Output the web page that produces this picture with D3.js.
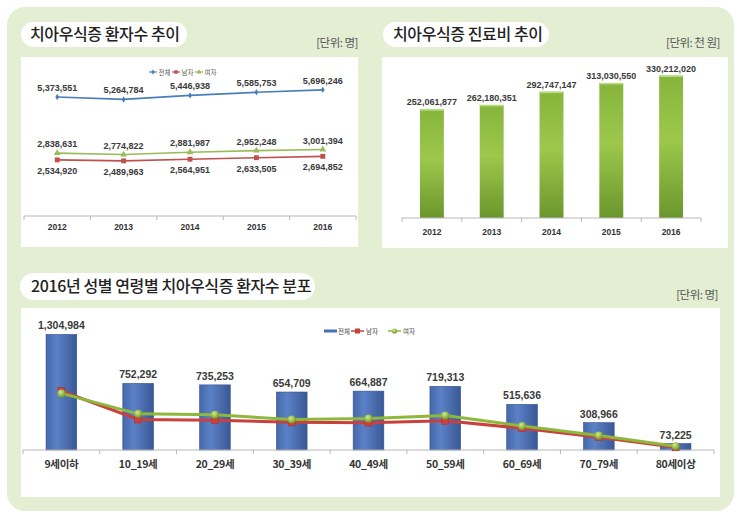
<!DOCTYPE html>
<html><head><meta charset="utf-8">
<script src="https://cdn.jsdelivr.net/npm/d3@7/dist/d3.min.js"></script>
<style>
html,body{margin:0;padding:0;background:#fff;}
svg{display:block;}
text{font-family:"Liberation Sans","Noto Sans CJK KR",sans-serif;}
.kr{font-family:"Noto Sans CJK KR","Noto Sans",sans-serif;}
</style></head>
<body>
<svg id="c" width="743" height="521"></svg>
<script>
// ---------- DATA ----------
const years = ["2012","2013","2014","2015","2016"];
const patientsTotal = [5373551, 5264784, 5446938, 5585753, 5696246];
const patientsMale = [2534920, 2489963, 2564951, 2633505, 2694852];
const patientsFemale = [2838631, 2774822, 2881987, 2952248, 3001394];
const costs = [252061877, 262180351, 292747147, 313030550, 330212020];
const ageGroups = ["9세이하","10_19세","20_29세","30_39세","40_49세","50_59세","60_69세","70_79세","80세이상"];
const ageTotal = [1304984, 752292, 735253, 654709, 664887, 719313, 515636, 308966, 73225];
const ageMale = [666000, 344000, 337000, 312000, 309000, 329000, 245000, 145000, 30000];
const ageFemale = [639000, 408000, 398000, 343000, 356000, 390000, 271000, 164000, 43000];
const seriesNames = ["전체","남자","여자"];

const fmt = d3.format(",");
const svg = d3.select("#c");
const defs = svg.append("defs");

// gradients
const gG = defs.append("linearGradient").attr("id","gbar").attr("x1",0).attr("y1",0).attr("x2",0).attr("y2",1);
[[0,"#86b43c"],[0.45,"#9dc84c"],[1,"#6b962c"]].forEach(s=>gG.append("stop").attr("offset",s[0]).attr("stop-color",s[1]));
const gB = defs.append("linearGradient").attr("id","bbar").attr("x1",0).attr("y1",0).attr("x2",1).attr("y2",0);
[[0,"#4668aa"],[0.35,"#5b81c6"],[1,"#3a5896"]].forEach(s=>gB.append("stop").attr("offset",s[0]).attr("stop-color",s[1]));
const gC = defs.append("radialGradient").attr("id","gdot").attr("cx","40%").attr("cy","35%").attr("r","65%");
[[0,"#d2ec8c"],[1,"#6f9a24"]].forEach(s=>gC.append("stop").attr("offset",s[0]).attr("stop-color",s[1]));

// background
svg.append("rect").attr("x",7).attr("y",7).attr("width",727).attr("height",504).attr("rx",18).attr("fill","#e4eed2");

function panelTitle(x,y,w,h,txt,tx){
  svg.append("rect").attr("x",x).attr("y",y).attr("width",w).attr("height",h).attr("rx",h/2).attr("fill","#fff");
  svg.append("text").attr("class","kr").attr("x",tx).attr("y",y+h/2+5.5).attr("font-size",16).attr("font-weight",500)
    .attr("letter-spacing",-0.4).attr("fill","#222").text(txt);
}
function unit(x,y,txt){
  svg.append("text").attr("class","kr").attr("x",x).attr("y",y).attr("text-anchor","end").attr("font-size",11.5)
    .attr("letter-spacing",-0.5).attr("fill","#555").text(txt);
}
function drawAxis(g, x, y0, fs, pad){
  const ax = g.append("g").attr("transform",`translate(0,${y0})`)
    .call(d3.axisBottom(x).tickSize(0).tickPadding(pad));
  ax.select(".domain").remove();
  ax.selectAll("text").attr("font-size",fs).attr("font-weight","bold").attr("fill","#333");
  const r = x.range();
  g.append("line").attr("x1",r[0]).attr("x2",r[1]).attr("y1",y0).attr("y2",y0).attr("stroke","#b8b8b8").attr("stroke-width",1);
  const bounds = x.domain().map(d=>x(d)).concat([r[1]]);
  g.selectAll(null).data(bounds).enter().append("line")
    .attr("x1",d=>d).attr("x2",d=>d).attr("y1",y0).attr("y2",y0+4).attr("stroke","#b8b8b8");
}

// ---------- PANEL 1 ----------
panelTitle(21,22,166,25,"치아우식증 환자수 추이",30);
unit(358,47,"[단위: 명]");
svg.append("rect").attr("x",21).attr("y",57).attr("width",337).attr("height",190).attr("fill","#fff");
{
  const g = svg.append("g");
  const x = d3.scaleBand().domain(years).range([24,356]).padding(0);
  const cx = d => x(d)+x.bandwidth()/2;
  const y = d3.scaleLinear().domain([0,7000000]).range([216,61]);
  drawAxis(g,x,216,8.5,8);
  const series = [
    {name:seriesNames[0], vals:patientsTotal, color:"#4a7ebb", marker:"diamond", lab:-6},
    {name:seriesNames[2], vals:patientsFemale, color:"#9bbb59", marker:"triangle", lab:-6},
    {name:seriesNames[1], vals:patientsMale, color:"#c0504d", marker:"square", lab:14}
  ];
  const line = d3.line().x((d,i)=>cx(years[i])).y(d=>y(d));
  series.forEach(s=>{
    g.append("path").attr("d",line(s.vals)).attr("fill","none").attr("stroke",s.color).attr("stroke-width",1.6);
    const sym = s.marker==="diamond"?d3.symbolDiamond:(s.marker==="square"?d3.symbolSquare:d3.symbolTriangle);
    const sz = s.marker==="diamond"?12:(s.marker==="square"?24:20);
    g.selectAll(null).data(s.vals).enter().append("path")
      .attr("d",d3.symbol(sym,sz)).attr("transform",(d,i)=>`translate(${cx(years[i])},${y(d)})`).attr("fill",s.color);
    g.selectAll(null).data(s.vals).enter().append("text")
      .attr("x",(d,i)=>cx(years[i])).attr("y",d=>y(d)+s.lab).attr("text-anchor","middle")
      .attr("font-size",9).attr("font-weight","bold").attr("fill","#3a3a3a").text(d=>fmt(d));
  });
  // legend
  const leg = [{n:seriesNames[0],c:"#4a7ebb",m:d3.symbolDiamond,s:8,x:149},{n:seriesNames[1],c:"#c0504d",m:d3.symbolSquare,s:12,x:172},{n:seriesNames[2],c:"#9bbb59",m:d3.symbolTriangle,s:10,x:195}];
  leg.forEach(l=>{
    g.append("line").attr("x1",l.x).attr("x2",l.x+8).attr("y1",72).attr("y2",72).attr("stroke",l.c).attr("stroke-width",1.2);
    g.append("path").attr("d",d3.symbol(l.m,l.s)).attr("transform",`translate(${l.x+4},72)`).attr("fill",l.c);
    g.append("text").attr("class","kr").attr("x",l.x+9.5).attr("y",74.5).attr("font-size",6.5).attr("fill","#555").text(l.n);
  });
}

// ---------- PANEL 2 ----------
panelTitle(383,22,166,25,"치아우식증 진료비 추이",393);
unit(720,47,"[단위: 천 원]");
svg.append("rect").attr("x",382).attr("y",57).attr("width",346).attr("height",191).attr("fill","#fff");
{
  const g = svg.append("g");
  const x = d3.scaleBand().domain(years).range([402,701]).padding(0);
  const y = d3.scaleLinear().domain([0,350000000]).range([218,67]);
  const bw = x.bandwidth()*0.4, off = x.bandwidth()*0.3;
  g.selectAll(null).data(costs).enter().append("rect")
    .attr("x",(d,i)=>x(years[i])+off).attr("width",bw).attr("y",d=>y(d)).attr("height",d=>y(0)-y(d)).attr("fill","url(#gbar)");
  g.selectAll(null).data(costs).enter().append("rect")
    .attr("x",(d,i)=>x(years[i])+off).attr("width",bw).attr("y",d=>y(d)).attr("height",1.5).attr("fill","#b9db80");
  drawAxis(g,x,218,8.5,11);
  g.selectAll(null).data(costs).enter().append("text")
    .attr("x",(d,i)=>x(years[i])+x.bandwidth()/2).attr("y",d=>y(d)-4).attr("text-anchor","middle")
    .attr("font-size",9).attr("font-weight","bold").attr("fill","#3a3a3a").text(d=>fmt(d));
}

// ---------- PANEL 3 ----------
panelTitle(20,273,295,27,"2016년 성별 연령별 치아우식증 환자수 분포",31);
unit(718,299,"[단위: 명]");
svg.append("rect").attr("x",21).attr("y",308).attr("width",699).attr("height",189).attr("fill","#fff");
{
  const g = svg.append("g");
  const x = d3.scaleBand().domain(ageGroups).range([23,714]).padding(0);
  const cx = d => x(d)+x.bandwidth()/2;
  const y = d3.scaleLinear().domain([0,1400000]).range([450,326]);
  const bw = x.bandwidth()*0.4, off = x.bandwidth()*0.3;
  g.selectAll(null).data(ageTotal).enter().append("rect")
    .attr("x",(d,i)=>x(ageGroups[i])+off).attr("width",bw).attr("y",d=>y(d)).attr("height",d=>y(0)-y(d))
    .attr("fill","url(#bbar)").attr("stroke","#36548f").attr("stroke-width",0.6);
  drawAxis(g,x,450,10.5,11);
  g.selectAll(".tick text").attr("class","kr").attr("font-size",10.5).attr("font-weight","bold").attr("letter-spacing",-0.3);
  g.selectAll(null).data(ageTotal).enter().append("text")
    .attr("x",(d,i)=>cx(ageGroups[i])).attr("y",d=>y(d)-5).attr("text-anchor","middle")
    .attr("font-size",10.5).attr("font-weight","bold").attr("fill","#3a3a3a").text(d=>fmt(d));
  const line = d3.line().x((d,i)=>cx(ageGroups[i])).y(d=>y(d));
  g.append("path").attr("d",line(ageMale)).attr("fill","none").attr("stroke","#c9403c").attr("stroke-width",3);
  g.selectAll(null).data(ageMale).enter().append("rect")
    .attr("x",(d,i)=>cx(ageGroups[i])-3.5).attr("y",d=>y(d)-3.5).attr("width",7).attr("height",7)
    .attr("fill","#c9403c").attr("stroke","#a83030").attr("stroke-width",0.5);
  g.append("path").attr("d",line(ageFemale)).attr("fill","none").attr("stroke","#8db83c").attr("stroke-width",3);
  g.selectAll(null).data(ageFemale).enter().append("circle")
    .attr("cx",(d,i)=>cx(ageGroups[i])).attr("cy",d=>y(d)).attr("r",4).attr("fill","url(#gdot)");
  // legend
  g.append("rect").attr("x",324).attr("y",329.5).attr("width",13).attr("height",3).attr("fill","#4a6fb5");
  g.append("text").attr("class","kr").attr("x",338).attr("y",333.5).attr("font-size",6.5).attr("fill","#444").text(seriesNames[0]);
  g.append("line").attr("x1",351).attr("x2",364).attr("y1",331).attr("y2",331).attr("stroke","#c9403c").attr("stroke-width",1.5);
  g.append("rect").attr("x",355).attr("y",328.5).attr("width",5).attr("height",5).attr("fill","#c9403c");
  g.append("text").attr("class","kr").attr("x",366).attr("y",333.5).attr("font-size",6.5).attr("fill","#444").text(seriesNames[1]);
  g.append("line").attr("x1",388).attr("x2",401).attr("y1",331).attr("y2",331).attr("stroke","#8db83c").attr("stroke-width",1.5);
  g.append("circle").attr("cx",394.5).attr("cy",331).attr("r",2.6).attr("fill","url(#gdot)");
  g.append("text").attr("class","kr").attr("x",403).attr("y",333.5).attr("font-size",6.5).attr("fill","#444").text(seriesNames[2]);
}
</script>
</body></html>
